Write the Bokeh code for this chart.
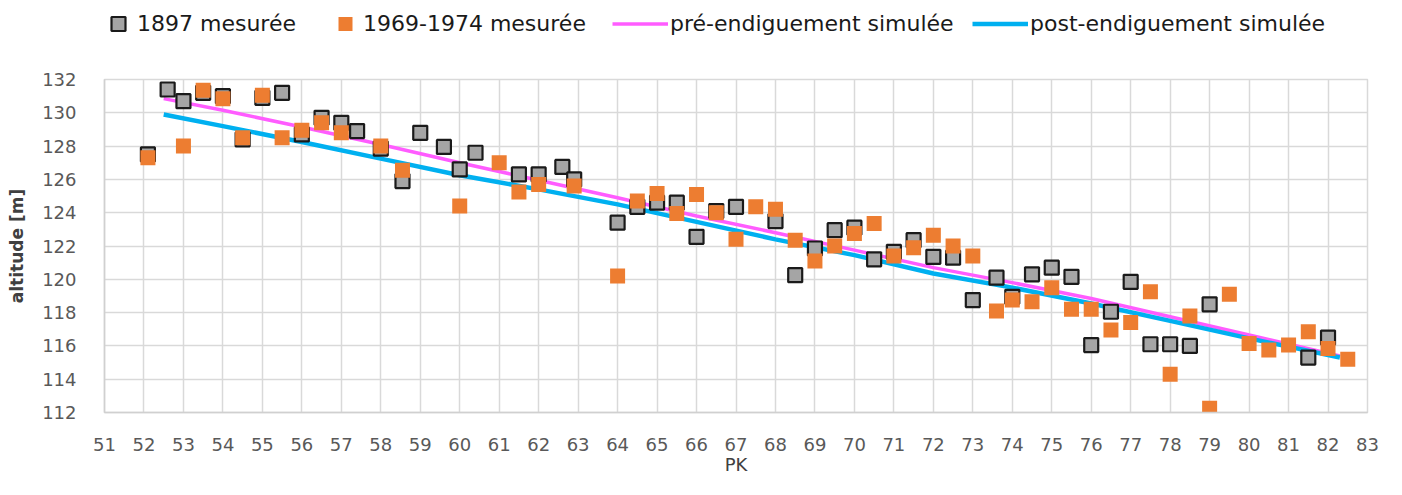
from bokeh.plotting import figure
from bokeh.layouts import column
from bokeh.models import Range1d, Legend, LegendItem, FixedTicker
from bokeh.embed import file_html
from bokeh.resources import INLINE

# ---- data ----
pk_1897 = [52.1, 52.6, 53.0, 53.5, 54.0, 54.5, 55.0, 55.5, 56.0, 56.5,
           57.0, 57.4, 58.0, 58.55, 59.0, 59.6, 60.0, 60.4, 61.5, 62.0,
           62.6, 62.9, 64.0, 64.5, 65.0, 65.5, 66.0, 66.5, 67.0, 68.0,
           68.5, 69.0, 69.5, 70.0, 70.5, 71.0, 71.5, 72.0, 72.5, 73.0,
           73.6, 74.0, 74.5, 75.0, 75.5, 76.0, 76.5, 77.0, 77.5, 78.0,
           78.5, 79.0, 81.5, 82.0]
alt_1897 = [127.5, 131.4, 130.7, 131.2, 131.0, 128.4, 130.9, 131.2, 128.7, 129.7,
            129.4, 128.9, 127.85, 125.9, 128.8, 127.95, 126.6, 127.6, 126.3, 126.3,
            126.75, 126.0, 123.4, 124.35, 124.6, 124.6, 122.55, 124.1, 124.35, 123.5,
            120.25, 121.85, 122.95, 123.1, 121.2, 121.65, 122.35, 121.35, 121.3, 118.75,
            120.1, 118.95, 120.3, 120.7, 120.15, 116.05, 118.05, 119.85, 116.1, 116.1,
            116.0, 118.5, 115.3, 116.5]

pk_1969 = [52.1, 53.0, 53.5, 54.0, 54.5, 55.0, 55.5, 56.0, 56.5, 57.0,
           58.0, 58.55, 60.0, 61.0, 61.5, 62.0, 62.9, 64.0, 64.5, 65.0,
           65.5, 66.0, 66.5, 67.0, 67.5, 68.0, 68.5, 69.0, 69.5, 70.0,
           70.5, 71.0, 71.5, 72.0, 72.5, 73.0, 73.6, 74.0, 74.5, 75.0,
           75.5, 76.0, 76.5, 77.0, 77.5, 78.0, 78.5, 79.0, 79.5, 80.0,
           80.5, 81.0, 81.5, 82.0, 82.5]
alt_1969 = [127.3, 128.0, 131.35, 130.85, 128.5, 131.05, 128.5, 128.95, 129.4, 128.8,
            128.0, 126.55, 124.4, 127.0, 125.25, 125.7, 125.6, 120.2, 124.7, 125.15,
            123.95, 125.1, 124.0, 122.4, 124.35, 124.2, 122.35, 121.1, 122.0, 122.75,
            123.35, 121.4, 121.9, 122.65, 122.0, 121.4, 118.1, 118.75, 118.65, 119.5,
            118.2, 118.2, 116.95, 117.4, 119.25, 114.3, 117.8, 112.25, 119.1, 116.15,
            115.75, 116.05, 116.85, 115.85, 115.2]

pk_sim = [52.5, 54, 56, 58, 60, 62, 64, 66, 68, 70, 72, 74, 76, 78, 80, 82.3]
alt_pre = [130.85, 130.15, 129.15, 128.1, 127.0, 125.95, 124.9, 123.8, 122.8,
           121.75, 120.7, 119.8, 118.85, 117.75, 116.65, 115.4]
alt_post = [129.9, 129.2, 128.25, 127.25, 126.25, 125.4, 124.5, 123.45, 122.4,
            121.45, 120.35, 119.5, 118.55, 117.5, 116.45, 115.3]

x_ticks = list(range(51, 84))
y_ticks = list(range(112, 133, 2))

names = ["1897 mesurée", "1969-1974 mesurée",
         "pré-endiguement simulée", "post-endiguement simulée"]

# styles
GRAY = dict(marker="square", fill_color="#A5A5A5", line_color="#1A1A1A", line_width=2.2)
ORANGE = dict(marker="square", fill_color="#ED7D31", line_color=None)
PINK = dict(line_color="#FF5CFF", line_width=3.5)
BLUE = dict(line_color="#00B0F0", line_width=4.5)

# ---- main figure ----
p = figure(width=1386, height=416, output_backend="svg", toolbar_location=None,
           x_range=Range1d(51, 83), y_range=Range1d(112, 132),
           min_border_left=104, min_border_right=19,
           min_border_top=16, min_border_bottom=67,
           background_fill_color="white", border_fill_color="white")

p.outline_line_color = "#D9D9D9"
p.outline_line_width = 1.5

p.xaxis.ticker = FixedTicker(ticks=x_ticks)
p.yaxis.ticker = FixedTicker(ticks=y_ticks)
for ax in (p.xaxis, p.yaxis):
    ax.major_tick_line_color = None
    ax.minor_tick_line_color = None
    ax.major_tick_out = 0
    ax.major_tick_in = 0
    ax.minor_tick_out = 0
    ax.minor_tick_in = 0
    ax.axis_line_color = "#D0D0D0"
    ax.axis_line_width = 1.5
    ax.major_label_text_font = "DejaVu Sans"
    ax.major_label_text_font_size = "18px"
    ax.major_label_text_color = "#595959"
    ax.axis_label_text_font = "DejaVu Sans"
    ax.axis_label_text_color = "#404040"

p.xaxis.major_label_standoff = 25
p.yaxis.major_label_standoff = 28
p.xaxis.axis_label = "PK"
p.xaxis.axis_label_text_font_size = "18px"
p.xaxis.axis_label_text_font_style = "normal"
p.xaxis.axis_label_standoff = 0
p.yaxis.axis_label = "altitude [m]"
p.yaxis.axis_label_text_font_size = "17px"
p.yaxis.axis_label_text_font_style = "bold"
p.yaxis.axis_label_standoff = 12

p.xgrid.ticker = FixedTicker(ticks=x_ticks)
p.ygrid.ticker = FixedTicker(ticks=y_ticks)
p.grid.grid_line_color = "#D9D9D9"
p.grid.grid_line_width = 1.5

p.line(pk_sim, alt_pre, **PINK)
p.line(pk_sim, alt_post, **BLUE)
p.scatter(pk_1897, alt_1897, size=14, **GRAY)
p.scatter(pk_1969, alt_1969, size=15, **ORANGE)

# ---- legend strip above: same series, outside this strip's view range ----
lf = figure(frame_width=1386, frame_height=63, output_backend="svg",
            toolbar_location=None,
            x_range=Range1d(0, 1), y_range=Range1d(0, 1),
            min_border=0, outline_line_color=None,
            background_fill_color="white", border_fill_color="white")
lf.axis.visible = False
lf.grid.visible = False
lr_1897 = lf.scatter(pk_1897, alt_1897, size=14, **GRAY)
lr_1969 = lf.scatter(pk_1969, alt_1969, size=15, **ORANGE)
lr_pre = lf.line(pk_sim, alt_pre, **PINK)
lr_post = lf.line(pk_sim, alt_post, **BLUE)

# (label, renderer, x of glyph box, glyph width, standoff)
legend_specs = [
    (names[0], lr_1897, 100, 36, 1),
    (names[1], lr_1969, 327, 36, -1),
    (names[2], lr_pre, 612, 56, 2),
    (names[3], lr_post, 972, 56, 2),
]
for label, rend, x0, gw, so in legend_specs:
    lg = Legend(
        items=[LegendItem(label=label, renderers=[rend])],
        orientation="horizontal", location=(x0, 22),
        glyph_width=gw, glyph_height=35, label_standoff=so,
        padding=0, margin=0, spacing=0,
        border_line_color=None, background_fill_alpha=0,
        label_text_font="DejaVu Sans", label_text_font_size="22px",
        label_text_color="#1A1A1A", label_height=35,
    )
    lf.add_layout(lg, "center")

layout = column(lf, p, spacing=0)
open("out.html", "w").write(file_html(layout, INLINE))
